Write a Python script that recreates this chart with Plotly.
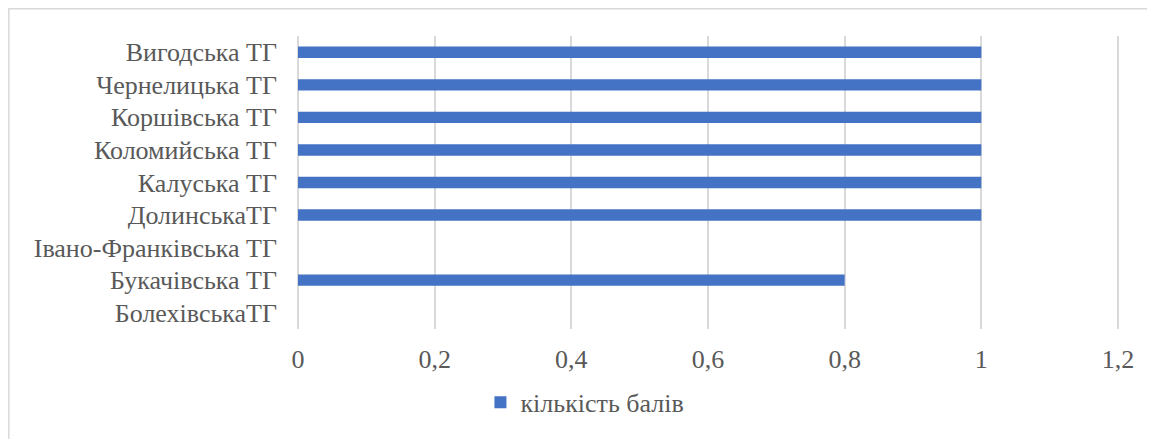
import plotly.graph_objects as go

categories = ["БолехівськаТГ", "Букачівська ТГ", "Івано-Франківська ТГ", "ДолинськаТГ",
              "Калуська ТГ", "Коломийська ТГ", "Коршівська ТГ", "Чернелицька ТГ", "Вигодська ТГ"]
values = [0, 0.8, 0, 1, 1, 1, 1, 1, 1]
series_name = "кількість балів"
tick_vals = [0, 0.2, 0.4, 0.6, 0.8, 1, 1.2]
tick_text = ["0", "0,2", "0,4", "0,6", "0,8", "1", "1,2"]

W, H = 1147, 431
L, R, T, B = 290, 36, 28, 110
pw, ph = W - L - R, H - T - B

font = "Liberation Serif, Times New Roman, serif"
txt = "#595959"
fs = 26

fig = go.Figure()
fig.add_trace(go.Bar(
    y=categories, x=values, orientation="h", name=series_name,
    marker=dict(color="#4472C4", line=dict(width=0)),
))

fig.update_layout(
    template="none",
    width=W, height=H,
    margin=dict(l=L, r=R, t=T, b=B),
    paper_bgcolor="white", plot_bgcolor="white",
    bargap=0.65,
    font=dict(family=font, size=fs, color=txt),
    showlegend=True,
    legend=dict(orientation="h", xref="container", yref="container",
                x=0.503, xanchor="center", y=0.085, yanchor="middle",
                font=dict(family=font, size=fs, color=txt),
                itemwidth=30, traceorder="normal"),
    xaxis=dict(range=[0, 1.2015], tickvals=tick_vals, ticktext=tick_text,
               automargin=False,
               showgrid=True, gridcolor="#D9D9D9", gridwidth=1.5,
               zeroline=True, zerolinecolor="#D9D9D9", zerolinewidth=1.5,
               showline=False, ticks="", ticklabelstandoff=12,
               tickfont=dict(family=font, size=fs, color=txt)),
    yaxis=dict(categoryorder="array", categoryarray=categories,
               automargin=False,
               showgrid=False, zeroline=False, showline=False, ticks="",
               ticklabelstandoff=20,
               tickfont=dict(family=font, size=fs, color=txt)),
    shapes=[dict(type="rect", xref="paper", yref="paper",
                 x0=(0.8 - L) / pw, x1=(W + 10 - L) / pw,
                 y0=-(H + 10 - T - ph) / ph, y1=1 + (T - 0.8) / ph,
                 line=dict(color="#D9D9D9", width=1.5), fillcolor="rgba(0,0,0,0)",
                 layer="below")],
)

fig.write_html("out.html")
